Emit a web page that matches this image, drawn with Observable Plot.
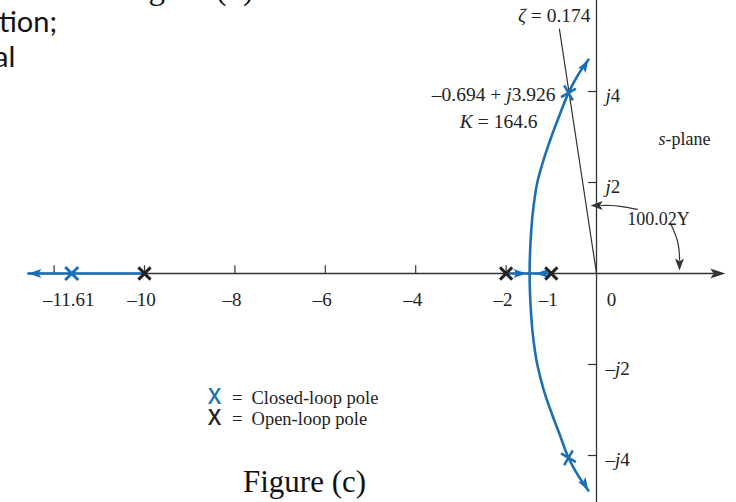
<!DOCTYPE html>
<html><head><meta charset="utf-8">
<script src="https://cdn.jsdelivr.net/npm/d3@7"></script>
<script src="https://cdn.jsdelivr.net/npm/@observablehq/plot@0.6"></script>
<style>
html,body{margin:0;padding:0;background:#fff;}
#wrap{position:relative;width:736px;height:502px;overflow:hidden;background:#fff;}
.ov{position:absolute;white-space:nowrap;line-height:1;color:#111;}
.serif{font-family:"Liberation Serif","Times New Roman",serif;}
.sans{font-family:Lato,"Open Sans",sans-serif;}
.leg{font-family:"Liberation Serif","Times New Roman",serif;font-size:18.5px;line-height:18px;color:#222;}
.lx{font-family:"Open Sans",Lato,sans-serif;font-size:21px;line-height:18px;font-weight:600;}
</style></head><body>
<div id="wrap">
  <div class="ov serif" style="left:121px;top:-28px;font-size:33px;">Figure (b)</div>
  <div class="ov sans" style="left:-1px;top:6px;font-size:29px;">tion;</div>
  <div class="ov sans" style="left:-6px;top:41px;font-size:29px;">al</div>
  <div class="ov leg" style="left:208px;top:387px;"><span class="lx" style="color:#1d6fb4">X</span><span style="margin-left:11px">=</span><span style="margin-left:9px">Closed-loop pole</span></div>
  <div class="ov leg" style="left:208px;top:408px;"><span class="lx" style="color:#222">X</span><span style="margin-left:11px">=</span><span style="margin-left:9px">Open-loop pole</span></div>
  <div class="ov serif" style="left:243px;top:466px;font-size:31px;">Figure (c)</div>
</div>
<script>
// ---------- data ----------
const openLoopRe = [-10, -2, -1];
const closedRealRe = [-11.61];
const closedCplxRe = [-0.62, -0.62];
const closedCplxIm = [3.97, -4.05];
const closedCplxTilt = [-30, 30];

const lowerRe = [-0.18, -0.40, -0.62, -0.81, -1.00, -1.17, -1.31, -1.39, -1.44, -1.48];
const lowerIm = [-4.77, -4.45, -4.05, -3.55, -3.05, -2.55, -2.00, -1.50, -1.00, 0];
const upperRe = [-1.48, -1.44, -1.39, -1.31, -1.17, -1.00, -0.81, -0.62, -0.40, -0.18];
const upperIm = [0, 1.00, 1.50, 2.00, 2.50, 3.00, 3.50, 3.97, 4.38, 4.70];
const leftBranchRe = [-10, -12.57];
const midBranchRe = [-2, -1];

const locusArrowRe = [-12.57, -1.55, -1.35, -0.18, -0.18];
const locusArrowIm = [0, 0, 0, 4.70, -4.77];
const locusArrowDir = [270, 90, 270, 31, 149];

const realTicks = [-12, -10, -8, -6, -4, -2];
const realLabelVals = [-11.61, -10, -8, -6, -4, -2, -1];
const realLabelText = ["–11.61", "–10", "–8", "–6", "–4", "–2", "–1"];
const originLabel = ["0"];
const imagTicks = [4, 2, -2, -4];
const imagLabelText = ["*j*4", "*j*2", "–*j*2", "–*j*4"];

const zetaRe = [0, -0.82];
const zetaIm = [0, 5.37];

const angUpperRe = [0.907, 0.53, 0.31, 0.10];
const angUpperIm = [1.41, 1.475, 1.495, 1.495];
const angLowerRe = [1.64, 1.79, 1.836, 1.836];
const angLowerIm = [1.10, 0.72, 0.40, 0.30];
const angHeadRe = [-0.13, 1.836];
const angHeadIm = [1.495, 0.066];
const angHeadDir = [270, 180];

// ---------- geometry of the frame ----------
const W = 736, H = 502;
const X0 = 596, XS = 45.2, Y0 = 273, YS = 45.5;
const xDomain = [(0 - X0) / XS, (W - X0) / XS];
const yDomain = [(Y0 - H) / YS, Y0 / YS];

const blue = "#1d6fb4";
const ink = "#333";

const head = {
  draw(context, l, r) {
    context.moveTo(0, -l);
    context.lineTo(r, 0);
    context.lineTo(0, -l * 0.22);
    context.lineTo(-r, 0);
    context.closePath();
  }
};

const zip = (a, b) => a.map((v, i) => ({re: v, im: b[i]}));
const branch = zip(lowerRe, lowerIm).concat(zip(upperRe, upperIm).slice(1));
const locusArrows = locusArrowRe.map((v, i) => ({re: v, im: locusArrowIm[i], dir: locusArrowDir[i]}));
const angHeads = angHeadRe.map((v, i) => ({re: v, im: angHeadIm[i], dir: angHeadDir[i]}));
const realLabels = realLabelVals.map((v, i) => ({re: v, text: realLabelText[i]}));
const imagLabels = imagTicks.map((v, i) => ({im: v, text: imagLabelText[i]}));
const cplxPoles = closedCplxRe.map((v, i) => ({re: v, im: closedCplxIm[i], tilt: closedCplxTilt[i]}));

const plot = Plot.plot({
  width: W, height: H, margin: 0,
  x: {domain: xDomain, axis: null},
  y: {domain: yDomain, axis: null},
  style: {background: "transparent", fontFamily: "'Liberation Serif','Times New Roman',serif", fontSize: "19px", color: "#222"},
  marks: [
    // axes
    Plot.ruleX([0], {stroke: ink, strokeWidth: 1.3}),
    Plot.ruleY([0], {x1: -12.57, x2: 2.6, stroke: ink, strokeWidth: 1.3}),
    Plot.vector([{re: 2.85, im: 0}], {x: "re", y: "im", rotate: 90, length: 15, r: 5, shape: head, anchor: "end", fill: ink, stroke: "none"}),
    Plot.ruleX(realTicks, {x: d => d, y1: 0, y2: 0.17, stroke: ink, strokeWidth: 1.2}),
    Plot.ruleY(imagTicks, {y: d => d, x1: -0.18, x2: 0, stroke: ink, strokeWidth: 1.2}),
    // zeta line
    Plot.line(zip(zetaRe, zetaIm), {x: "re", y: "im", stroke: ink, strokeWidth: 1.2}),
    // angle annotation arrows
    Plot.line(zip(angUpperRe, angUpperIm), {x: "re", y: "im", curve: "catmull-rom", stroke: ink, strokeWidth: 1.2}),
    Plot.line(zip(angLowerRe, angLowerIm), {x: "re", y: "im", curve: "catmull-rom", stroke: ink, strokeWidth: 1.2}),
    Plot.vector(angHeads, {x: "re", y: "im", rotate: "dir", length: 12, r: 4.5, shape: head, anchor: "end", fill: ink, stroke: "none"}),
    // root locus
    Plot.line(leftBranchRe.map(v => ({re: v, im: 0})), {x: "re", y: "im", stroke: blue, strokeWidth: 2.6}),
    Plot.line(midBranchRe.map(v => ({re: v, im: 0})), {x: "re", y: "im", stroke: blue, strokeWidth: 2.6}),
    Plot.line(branch, {x: "re", y: "im", curve: "catmull-rom", stroke: blue, strokeWidth: 2.6}),
    Plot.vector(locusArrows, {x: "re", y: "im", rotate: "dir", length: 13, r: 4.5, shape: head, anchor: "end", fill: blue, stroke: "none"}),
    // poles
    Plot.dot(openLoopRe, {x: d => d, y: () => 0, symbol: "times", r: 5.6, stroke: "#222", strokeWidth: 3}),
    Plot.dot(closedRealRe, {x: d => d, y: () => 0, symbol: "times", r: 6, stroke: blue, strokeWidth: 3}),
    Plot.dot(cplxPoles, {x: "re", y: "im", rotate: "tilt", symbol: "plus", r: 5.6, stroke: blue, strokeWidth: 2.6}),
    // tick labels
    Plot.text(realLabels, {x: "re", y: () => 0, text: "text", dy: 26, dx: -3, fill: "#222"}),
    Plot.text(originLabel, {x: () => 0, y: () => 0, text: d => d, dy: 26, dx: 15, fill: "#222"}),
    Plot.text(imagLabels, {x: () => 0, y: "im", text: "text", dx: 9, dy: 4, textAnchor: "start", fill: "#222"}),
    // annotations
    Plot.text(["*ζ* = 0.174"], {x: -0.13, y: 5.67, text: d => d, textAnchor: "end", fill: "#222", fontSize: 19.5}),
    Plot.text(["–0.694 + *j*3.926"], {x: -0.907, y: 3.93, text: d => d, textAnchor: "end", fill: "#222", fontSize: 19.5}),
    Plot.text(["*K* = 164.6"], {x: -1.305, y: 3.34, text: d => d, textAnchor: "end", fill: "#222", fontSize: 19.5}),
    Plot.text(["*s*-plane"], {x: 1.37, y: 2.95, text: d => d, textAnchor: "start", fill: "#222", fontSize: 18}),
    Plot.text(["100.02Υ"], {x: 0.68, y: 1.19, text: d => d, textAnchor: "start", fill: "#222", fontSize: 18})
  ]
});

// italic segments marked with *...*
plot.querySelectorAll("text").forEach(t => {
  const s = t.textContent;
  if (!s.includes("*")) return;
  const parts = s.split("*");
  while (t.firstChild) t.removeChild(t.firstChild);
  parts.forEach((p, i) => {
    if (!p) return;
    const ts = document.createElementNS("http://www.w3.org/2000/svg", "tspan");
    ts.textContent = p;
    if (i % 2) ts.setAttribute("font-style", "italic");
    t.appendChild(ts);
  });
});

plot.style.position = "absolute";
plot.style.left = "0";
plot.style.top = "0";
const wrap = document.getElementById("wrap");
wrap.insertBefore(plot, wrap.firstChild);
</script>
</body></html>
